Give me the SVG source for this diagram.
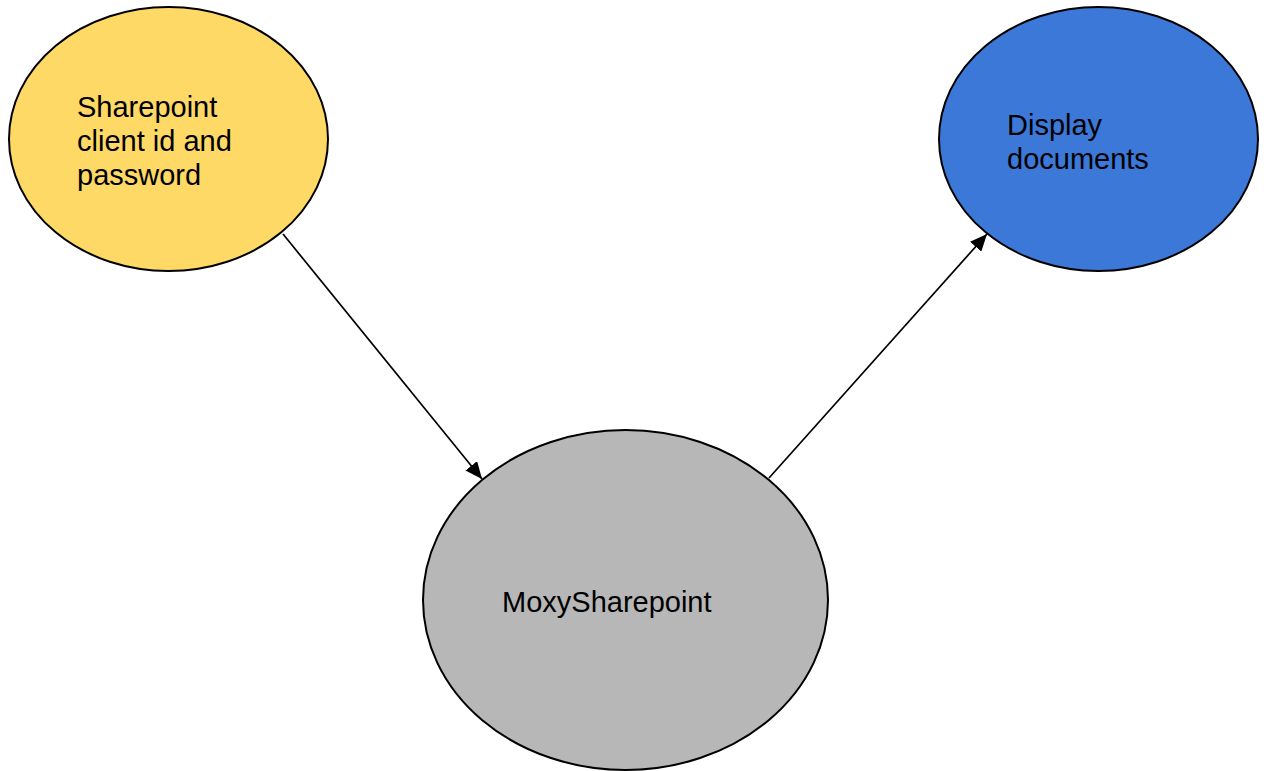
<svg xmlns="http://www.w3.org/2000/svg" width="1264" height="771" viewBox="0 0 1264 771">
<style>
.node{stroke:#000;stroke-width:2}
.lbl{font-family:"Liberation Sans",Arial,sans-serif;font-size:29px;fill:#000}
.edge{stroke:#000;stroke-width:1.7;fill:none}
</style>
<defs>
<marker id="ah" viewBox="0 0 17 15" refX="17" refY="7.5" markerWidth="17" markerHeight="15" markerUnits="userSpaceOnUse" orient="auto">
<path d="M0,0 L17,7.5 L0,15 z" fill="#000"/>
</marker>
</defs>
<rect width="1264" height="771" fill="#fff"/>
<g id="edges">
<line class="edge" x1="283" y1="234" x2="482" y2="479" marker-end="url(#ah)"/>
<line class="edge" x1="769" y1="478" x2="987" y2="234" marker-end="url(#ah)"/>
</g>
<g id="node-credentials">
<ellipse class="node" cx="168.5" cy="139" rx="159.5" ry="132" fill="#FFD966"/>
<text class="lbl" x="77" y="117">Sharepoint</text>
<text class="lbl" x="77" y="151">client id and</text>
<text class="lbl" x="77" y="185">password</text>
</g>
<g id="node-display">
<ellipse class="node" cx="1098.5" cy="139" rx="159.5" ry="132" fill="#3C78D8"/>
<text class="lbl" x="1007" y="135">Display</text>
<text class="lbl" x="1007" y="169">documents</text>
</g>
<g id="node-moxy">
<ellipse class="node" cx="625.5" cy="600" rx="202.5" ry="170" fill="#B7B7B7"/>
<text class="lbl" x="502" y="612">MoxySharepoint</text>
</g>
</svg>
